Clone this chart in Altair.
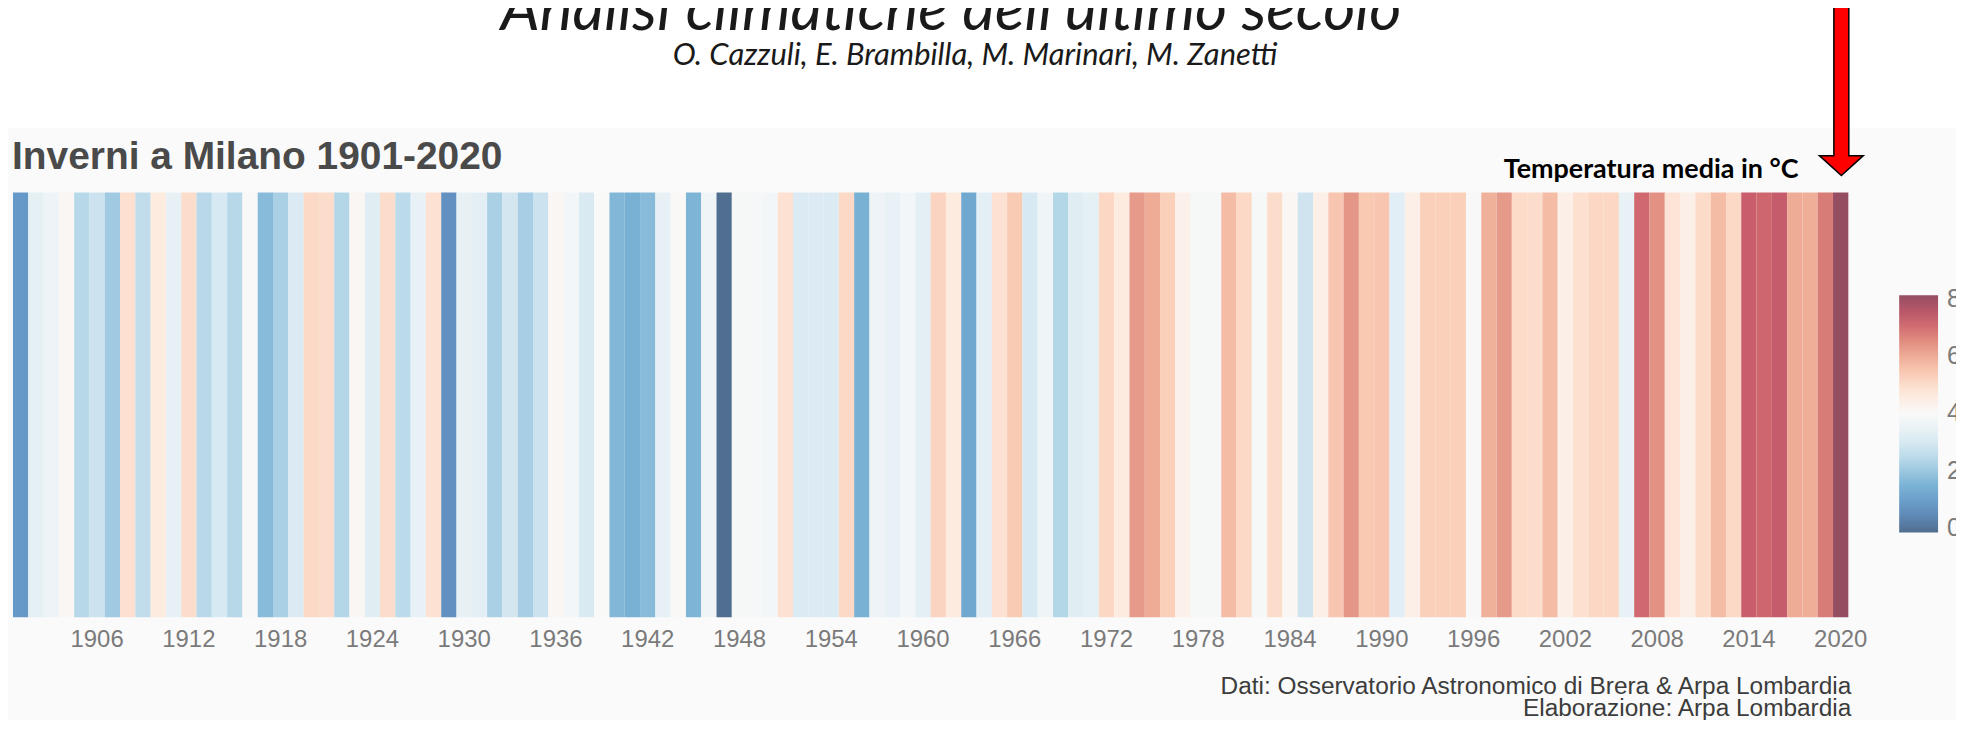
import altair as alt
import pandas as pd

# ---------------- data ----------------
years = list(range(1901, 2021))
temps = [
    0.8, 3.35, 3.6, 4.1, 2.4, 2.8, 2.05, 4.95, 2.6, 4.6,        # 1901-1910
    3.4, 5.0, 2.45, 3.0, 2.4, 3.95, 1.7, 2.2, 3.1, 5.1,         # 1911-1920
    5.0, 2.35, 4.1, 3.2, 5.0, 2.5, 3.45, 4.9, 0.6, 3.4,         # 1921-1930
    3.3, 2.2, 2.95, 2.15, 2.8, 4.1, 3.8, 3.05, 4.0, 1.6,        # 1931-1940
    1.45, 1.7, 3.4, 4.05, 1.55, 3.65, -0.15, 3.9, 3.85, 3.8,    # 1941-1950
    4.9, 3.1, 3.1, 3.1, 5.1, 1.45, 3.6, 3.45, 3.8, 3.3,         # 1951-1960
    5.2, 4.6, 1.2, 3.3, 4.9, 5.4, 3.0, 3.65, 2.35, 3.2,         # 1961-1970
    3.35, 5.15, 4.6, 6.3, 6.0, 5.3, 4.35, 3.9, 3.9, 5.7,        # 1971-1980
    5.1, 3.9, 5.0, 4.1, 2.85, 4.4, 5.5, 6.35, 5.45, 5.5,        # 1981-1990
    3.25, 4.4, 5.3, 5.3, 5.3, 3.95, 5.9, 6.3, 5.05, 5.0,        # 1991-2000
    5.7, 4.4, 4.95, 5.15, 5.15, 3.45, 7.1, 6.45, 4.85, 4.4,     # 2001-2010
    5.05, 5.7, 5.1, 7.3, 7.15, 7.35, 6.0, 5.95, 6.8, 8.12,      # 2011-2020
]
assert len(temps) == len(years)

tick_years = list(range(1906, 2021, 6))
legend_values = [0, 2, 4, 6, 8]

main_title = "Analisi climatiche dell'ultimo secolo"
authors = "O. Cazzuli, E. Brambilla, M. Marinari, M. Zanetti"
chart_title = "Inverni a Milano 1901-2020"
legend_title = "Temperatura media in °C"
caption_1 = "Dati: Osservatorio Astronomico di Brera & Arpa Lombardia"
caption_2 = "Elaborazione: Arpa Lombardia"

df = pd.DataFrame({"anno": years, "temp": temps})

# ---------------- style ----------------
RDBU = ["#67001f", "#b2182b", "#d6604d", "#f4a582", "#fddbc7", "#f7f7f7",
        "#d1e5f0", "#92c5de", "#4393c3", "#2166ac", "#053061"]
ALPHA = 0.7


def blend(hx, a=ALPHA, bg=255):
    r, g, b = (int(hx[i:i + 2], 16) for i in (1, 3, 5))
    return "#%02x%02x%02x" % tuple(round(a * c + (1 - a) * bg) for c in (r, g, b))


colors = [blend(c) for c in reversed(RDBU)]
DMIN, DMAX = min(temps), max(temps)
dom = [DMIN + (DMAX - DMIN) * i / (len(colors) - 1) for i in range(len(colors))]

W, H = 1841, 426
PAD = {"left": 5, "top": 184, "right": 108, "bottom": 102}
OX, OY = 8 + PAD["left"], 8 + PAD["top"]   # page -> group offset


def gx(X):
    return X - OX


def gy(Y):
    return Y - OY


LEG_X, LEG_Y = gx(1905), gy(295)
LEG_LEN, LEG_THK = 238, 39

one = alt.Data(values=[{"k": 1}])

background = alt.Chart(one).mark_rect(color="#fafafa").encode(
    x=alt.value(gx(0)), x2=alt.value(gx(1964)),
    y=alt.value(gy(127)), y2=alt.value(gy(730)),
)

stripes = alt.Chart(df).mark_rect(strokeWidth=0).encode(
    x=alt.X("anno:O", title=None,
            scale=alt.Scale(paddingInner=0, paddingOuter=0),
            axis=alt.Axis(values=tick_years, labelAngle=0, domain=False, ticks=False,
                          labelFontSize=24, labelColor="#7a7a7a", labelFont="Liberation Sans",
                          labelPadding=10, grid=False)),
    color=alt.Color("temp:Q",
                    scale=alt.Scale(domain=dom, range=colors),
                    legend=alt.Legend(title=None, orient="none", legendX=LEG_X, legendY=LEG_Y,
                                      direction="vertical", gradientLength=LEG_LEN,
                                      gradientThickness=LEG_THK, values=legend_values,
                                      labelFontSize=25, labelColor="#7a7a7a",
                                      labelFont="Liberation Sans", labelOffset=9, padding=0,
                                      gradientStrokeWidth=0)),
)

leg_ticks_df = pd.DataFrame({"v": legend_values})
yleg = alt.Y("v:Q", axis=None,
             scale=alt.Scale(domain=[DMIN, DMAX], range=[LEG_Y + LEG_LEN, LEG_Y]))
leg_ticks_l = alt.Chart(leg_ticks_df).mark_rule(color="white", strokeWidth=1.5).encode(
    x=alt.value(LEG_X), x2=alt.value(LEG_X + 7), y=yleg)
leg_ticks_r = alt.Chart(leg_ticks_df).mark_rule(color="white", strokeWidth=1.5).encode(
    x=alt.value(LEG_X + LEG_THK - 7), x2=alt.value(LEG_X + LEG_THK), y=yleg)


def label(txt, X, Y, align, size, font, color, weight="normal", style="normal"):
    return alt.Chart(one).mark_text(text=txt, align=align, baseline="alphabetic",
                                    fontSize=size, font=font, color=color,
                                    fontWeight=weight, fontStyle=style).encode(
        x=alt.value(gx(X)), y=alt.value(gy(Y)))


t_main = label(main_title, 954, 29, "center", 62, "Lato", "#1a1a1a", style="italic")
t_auth = label(authors, 978, 64, "center", 31, "Lato", "#1a1a1a", style="italic")
t_chart = label(chart_title, 12, 168, "left", 39, "Liberation Sans", "#4a4a4a", weight="bold")
t_leg = label(legend_title, 1804, 177, "right", 27, "Lato", "#000000", weight="bold")
t_cap1 = label(caption_1, 1857, 695, "right", 24.5, "Liberation Sans", "#3c3c3c")
t_cap2 = label(caption_2, 1857, 717, "right", 24.5, "Liberation Sans", "#3c3c3c")

ARROW = ("M -0.075 -1 L 0.075 -1 L 0.075 0.675 L 0.22 0.675 L 0 0.875 "
         "L -0.22 0.675 L -0.075 0.675 Z")
arrow = alt.Chart(one).mark_point(shape=ARROW, filled=True, fill="#ff0000", stroke="#000000",
                                  strokeWidth=1.5, size=40000, opacity=1,
                                  fillOpacity=1).encode(
    x=alt.value(gx(1847)), y=alt.value(gy(87.5)))

chart = alt.layer(
    background, stripes, leg_ticks_l, leg_ticks_r,
    t_main, t_auth, t_chart, t_leg, t_cap1, t_cap2, arrow,
).properties(
    width=W, height=H, padding=PAD,
    autosize=alt.AutoSizeParams(type="none"),
    background="white",
).configure_view(stroke=None)

chart.save("out.html", embed_options={"renderer": "svg", "actions": False})
